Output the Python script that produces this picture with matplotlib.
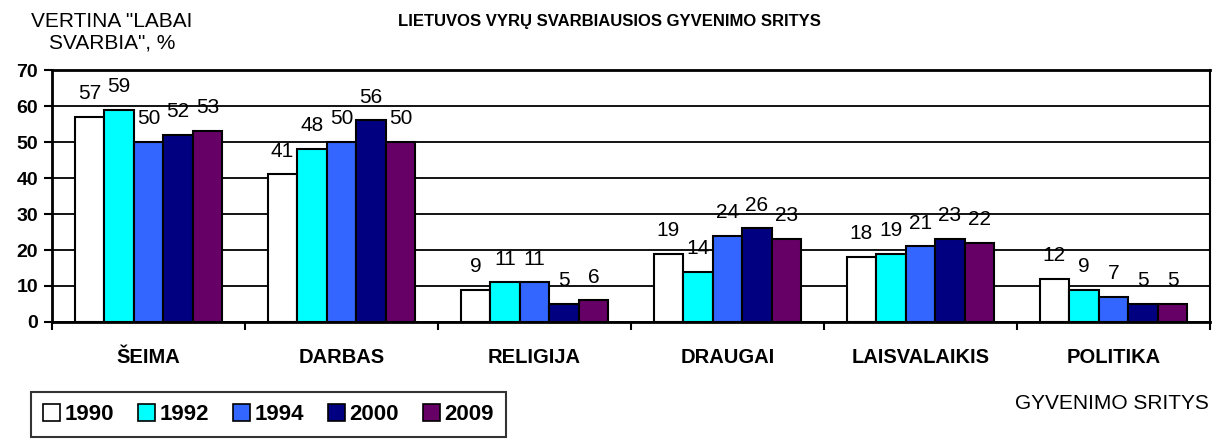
import numpy as np
import matplotlib.pyplot as plt
from matplotlib.patches import Patch

plt.rcParams['font.family'] = ['Liberation Sans', 'DejaVu Sans']

categories = ['ŠEIMA', 'DARBAS', 'RELIGIJA', 'DRAUGAI', 'LAISVALAIKIS', 'POLITIKA']
years = ['1990', '1992', '1994', '2000', '2009']
values = {
    '1990': [57, 41, 9, 19, 18, 12],
    '1992': [59, 48, 11, 14, 19, 9],
    '1994': [50, 50, 11, 24, 21, 7],
    '2000': [52, 56, 5, 26, 23, 5],
    '2009': [53, 50, 6, 23, 22, 5],
}
colors = ['#FFFFFF', '#00FFFF', '#3366FF', '#000080', '#660066']

fig = plt.figure(figsize=(12.14, 4.42), dpi=100)
ax = fig.add_axes([0.0428, 0.2715, 0.9539, 0.5701])

x = np.arange(len(categories))
w = 0.153
for i, yr in enumerate(years):
    pos = x + (i - 2) * w
    bars = ax.bar(pos, values[yr], w, color=colors[i], edgecolor='black',
                  linewidth=1.5, zorder=3)
    for b, v in zip(bars, values[yr]):
        ax.annotate(str(v), (b.get_x() + b.get_width() / 2, v),
                    xytext=(0, 10), textcoords='offset points',
                    ha='center', va='bottom', fontsize=15, zorder=4)

ax.set_xlim(-0.5, len(categories) - 0.5)
ax.set_ylim(0, 70)
ax.set_yticks(range(0, 71, 10))
ax.yaxis.grid(True, color='black', linewidth=1.3, zorder=0)
ax.set_axisbelow(True)

ax.set_xticks(np.arange(-0.5, len(categories), 1))
ax.set_xticklabels([])
ax.set_xticks(x, minor=True)
ax.set_xticklabels(categories, minor=True, fontweight='bold', fontsize=14.5)
ax.tick_params(axis='x', which='minor', length=0, pad=19)
ax.tick_params(axis='x', which='major', length=6, width=1.5, direction='out')
ax.tick_params(axis='y', length=6, width=1.5, direction='out', labelsize=14, pad=4)
for lbl in ax.get_yticklabels():
    lbl.set_fontweight('bold')

ax.spines['left'].set_linewidth(2)
ax.spines['bottom'].set_linewidth(2)
ax.spines['top'].set_linewidth(2)
ax.spines['right'].set_linewidth(1.5)

fig.text(0.502, 0.952, 'LIETUVOS VYRŲ SVARBIAUSIOS GYVENIMO SRITYS',
         ha='center', va='center', fontsize=12, fontweight='bold')
fig.text(0.092, 0.972, 'VERTINA "LABAI\nSVARBIA", %', ha='center', va='top',
         multialignment='center', fontsize=15, linespacing=1.15)
fig.text(0.916, 0.088, 'GYVENIMO SRITYS', ha='center', va='center', fontsize=15)

handles = [Patch(facecolor=c, edgecolor='black', linewidth=1.2) for c in colors]
leg = fig.legend(handles, years, ncol=5, loc='upper left',
                 bbox_to_anchor=(0.0255, 0.113), frameon=True, fancybox=False,
                 prop={'weight': 'bold', 'size': 16}, handlelength=0.75,
                 handleheight=0.75, handletextpad=0.2, columnspacing=1.1,
                 borderpad=0.55, borderaxespad=0)
leg.get_frame().set_edgecolor('black')
leg.get_frame().set_linewidth(1.5)

fig.savefig('out.png', dpi=100)
